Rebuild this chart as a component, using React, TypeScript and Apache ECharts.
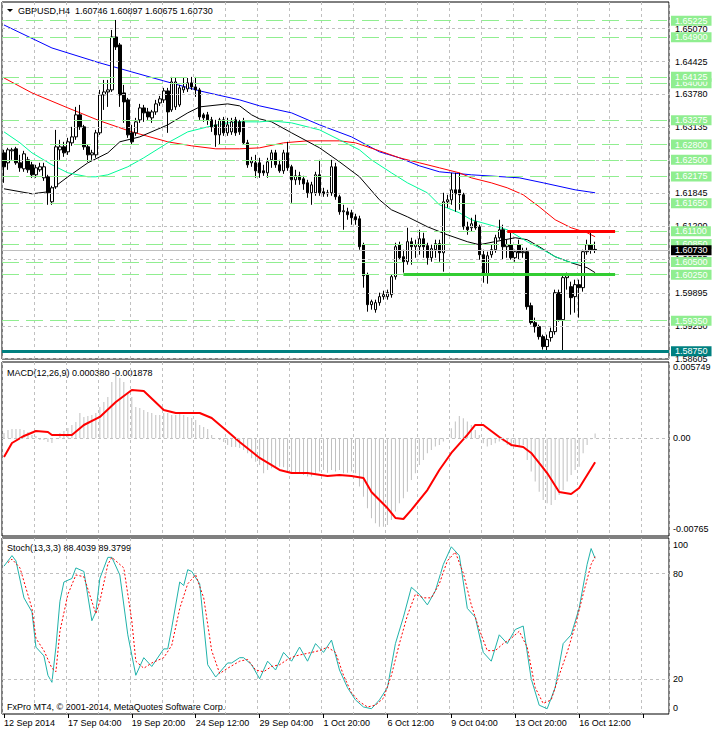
import React, { useEffect, useRef } from "react";
import * as echarts from "echarts";

const FONT = '"Liberation Sans", Arial, sans-serif';

const xTickLabels = ["12 Sep 2014", "17 Sep 04:00", "19 Sep 20:00", "24 Sep 12:00", "29 Sep 04:00", "1 Oct 20:00", "6 Oct 12:00", "9 Oct 04:00", "13 Oct 20:00", "16 Oct 12:00"];

// [open, close, low, high]
const candles: number[][] = [
  [1.62637, 1.62364, 1.62050, 1.62696], [1.62442, 1.62696, 1.62305, 1.62735], [1.62676, 1.62696, 1.62500, 1.62735], [1.62716, 1.62442, 1.62403, 1.62755],
  [1.62442, 1.62344, 1.62266, 1.62598], [1.62324, 1.62618, 1.62266, 1.62676], [1.62500, 1.62305, 1.62246, 1.62559], [1.62403, 1.62207, 1.62148, 1.62461],
  [1.62207, 1.62344, 1.62148, 1.62403], [1.62305, 1.62364, 1.62266, 1.62442], [1.62148, 1.62364, 1.62089, 1.62442], [1.62168, 1.61855, 1.61620, 1.62207],
  [1.61679, 1.61952, 1.61620, 1.61992], [1.61972, 1.62755, 1.61932, 1.63087], [1.62696, 1.62755, 1.62500, 1.62892], [1.62755, 1.62637, 1.62559, 1.62853],
  [1.62657, 1.62853, 1.62598, 1.62931], [1.62833, 1.62950, 1.62774, 1.63146], [1.62950, 1.63381, 1.62892, 1.63537], [1.63381, 1.63146, 1.63087, 1.63576],
  [1.63146, 1.62755, 1.62696, 1.63185], [1.62755, 1.62598, 1.62461, 1.62794], [1.62598, 1.62637, 1.62500, 1.62696], [1.62598, 1.63029, 1.62540, 1.63087],
  [1.63029, 1.63772, 1.62989, 1.63870], [1.63772, 1.63830, 1.63478, 1.64065], [1.63830, 1.63870, 1.63537, 1.64065], [1.63870, 1.64906, 1.63830, 1.65043],
  [1.64906, 1.64711, 1.64652, 1.65239], [1.64750, 1.63772, 1.63537, 1.64789], [1.63811, 1.63635, 1.63224, 1.63967], [1.63674, 1.62989, 1.62931, 1.63713],
  [1.63029, 1.62853, 1.62794, 1.63185], [1.63029, 1.63244, 1.62970, 1.63322], [1.63283, 1.63517, 1.63224, 1.63596], [1.63517, 1.63420, 1.63244, 1.63576],
  [1.63439, 1.63341, 1.63283, 1.63517], [1.63322, 1.63439, 1.63224, 1.63478], [1.63439, 1.63596, 1.63381, 1.63674], [1.63615, 1.63694, 1.63557, 1.63752],
  [1.63674, 1.63850, 1.63615, 1.63909], [1.63850, 1.63439, 1.63029, 1.63909], [1.63478, 1.64026, 1.63439, 1.64124], [1.63537, 1.64026, 1.63478, 1.64104],
  [1.63576, 1.63909, 1.63537, 1.63967], [1.63870, 1.63928, 1.63811, 1.64104], [1.63889, 1.64007, 1.63830, 1.64104], [1.64007, 1.63928, 1.63870, 1.64124],
  [1.63928, 1.63870, 1.63733, 1.64124], [1.63870, 1.63341, 1.63283, 1.63909], [1.63381, 1.63322, 1.63244, 1.63420], [1.63381, 1.63283, 1.63185, 1.63439],
  [1.63283, 1.63146, 1.63048, 1.63341], [1.63185, 1.62989, 1.62755, 1.63283], [1.62989, 1.63283, 1.62794, 1.63322], [1.63283, 1.63029, 1.62970, 1.63341],
  [1.63029, 1.63185, 1.62970, 1.63322], [1.63048, 1.63244, 1.62989, 1.63322], [1.63283, 1.63029, 1.62970, 1.63341], [1.63244, 1.63048, 1.62989, 1.63283],
  [1.63244, 1.62833, 1.62794, 1.63322], [1.62833, 1.62403, 1.62344, 1.62892], [1.62442, 1.62481, 1.62364, 1.62559], [1.62442, 1.62285, 1.62148, 1.62598],
  [1.62442, 1.62246, 1.62148, 1.62540], [1.62285, 1.62246, 1.62187, 1.62403], [1.62246, 1.62461, 1.62148, 1.62540], [1.62500, 1.62637, 1.62344, 1.62696],
  [1.62637, 1.62403, 1.62344, 1.62696], [1.62403, 1.62285, 1.62246, 1.62500], [1.62285, 1.62637, 1.62226, 1.62696], [1.62637, 1.62344, 1.62285, 1.62853],
  [1.62364, 1.62109, 1.61659, 1.62403], [1.62109, 1.62187, 1.62011, 1.62305], [1.62187, 1.62109, 1.62011, 1.62266], [1.62128, 1.62030, 1.61913, 1.62187],
  [1.62050, 1.61855, 1.61757, 1.62109], [1.61855, 1.62011, 1.61620, 1.62070], [1.61855, 1.62207, 1.61796, 1.62266], [1.62207, 1.61855, 1.61796, 1.62500],
  [1.61874, 1.61835, 1.61777, 1.61952], [1.61835, 1.61855, 1.61777, 1.61913], [1.61855, 1.62364, 1.61796, 1.62500], [1.62364, 1.61777, 1.61718, 1.62442],
  [1.61777, 1.61483, 1.61425, 1.61816], [1.61483, 1.61503, 1.61131, 1.61620], [1.61483, 1.61425, 1.61327, 1.61562], [1.61464, 1.61366, 1.61229, 1.61522],
  [1.61385, 1.61327, 1.61229, 1.61444], [1.61346, 1.60799, 1.60740, 1.61405], [1.60838, 1.60232, 1.59997, 1.60877], [1.60251, 1.59664, 1.59527, 1.60291],
  [1.59664, 1.59723, 1.59566, 1.59762], [1.59566, 1.59703, 1.59507, 1.59762], [1.59703, 1.59821, 1.59644, 1.59899], [1.59821, 1.59860, 1.59762, 1.59938],
  [1.59821, 1.59899, 1.59762, 1.59958], [1.59860, 1.60212, 1.59801, 1.60251], [1.60212, 1.60799, 1.60154, 1.60877], [1.60838, 1.60583, 1.60544, 1.60897],
  [1.60603, 1.60505, 1.60291, 1.60740], [1.60505, 1.60897, 1.60447, 1.61170], [1.60897, 1.60799, 1.60447, 1.60975], [1.60799, 1.60838, 1.60583, 1.60936],
  [1.60799, 1.60955, 1.60642, 1.61131], [1.60955, 1.60799, 1.60583, 1.61072], [1.60819, 1.60583, 1.60447, 1.60877], [1.60583, 1.60760, 1.60505, 1.60838],
  [1.60740, 1.60858, 1.60583, 1.60936], [1.60858, 1.60681, 1.60505, 1.60936], [1.60681, 1.61679, 1.60310, 1.61855], [1.61679, 1.61718, 1.61562, 1.61816],
  [1.61718, 1.61913, 1.61620, 1.62246], [1.61913, 1.61835, 1.61483, 1.62246], [1.61913, 1.61816, 1.61522, 1.62246], [1.61816, 1.61190, 1.61131, 1.61855],
  [1.61190, 1.61131, 1.61033, 1.61288], [1.61170, 1.61248, 1.61092, 1.61366], [1.61288, 1.61170, 1.61131, 1.61425], [1.61190, 1.60642, 1.60544, 1.61229],
  [1.60642, 1.60251, 1.60095, 1.60740], [1.60251, 1.60622, 1.60075, 1.60701], [1.60642, 1.60740, 1.60583, 1.60838], [1.60740, 1.60975, 1.60681, 1.61033],
  [1.60975, 1.61131, 1.60936, 1.61327], [1.61131, 1.60799, 1.60544, 1.61229], [1.60799, 1.60838, 1.60583, 1.60936], [1.60838, 1.60583, 1.60544, 1.61092],
  [1.60583, 1.60701, 1.60505, 1.60740], [1.60838, 1.60681, 1.60544, 1.60936], [1.60681, 1.60701, 1.60583, 1.60779], [1.60701, 1.59625, 1.59566, 1.60779],
  [1.59644, 1.59312, 1.59273, 1.59703], [1.59312, 1.59234, 1.59117, 1.59410], [1.59234, 1.59038, 1.58980, 1.59273], [1.59038, 1.58843, 1.58784, 1.59077],
  [1.58843, 1.58980, 1.58745, 1.59077], [1.59019, 1.59136, 1.58940, 1.59214], [1.59136, 1.59899, 1.59077, 1.59958], [1.59899, 1.59370, 1.59331, 1.59958],
  [1.59370, 1.60193, 1.58745, 1.60251], [1.60193, 1.60232, 1.59958, 1.60291], [1.60016, 1.59801, 1.59468, 1.60114], [1.59821, 1.60056, 1.59507, 1.60154],
  [1.60056, 1.59997, 1.59410, 1.60154], [1.59997, 1.60701, 1.59919, 1.60740], [1.60701, 1.60838, 1.60642, 1.60936], [1.60838, 1.60740, 1.60662, 1.61072],
  [1.60746, 1.60730, 1.60675, 1.60897],
];

// moving averages: [bar index, price]
const maBlue: number[][] = [[0, 1.65141], [12, 1.64691], [24, 1.64398], [32, 1.64222], [40, 1.64046], [49, 1.6385], [59, 1.63674], [64, 1.63557], [72, 1.6342], [79, 1.63185], [87, 1.6295], [94, 1.62657], [99, 1.6254], [104, 1.62383], [109, 1.62266], [117, 1.62207], [129, 1.62148], [135, 1.6205], [143, 1.61913], [148, 1.61855]];
const maRed: number[][] = [[0, 1.64104], [7, 1.63811], [16, 1.63517], [24, 1.63263], [32, 1.63048], [41, 1.62853], [47, 1.62774], [53, 1.62716], [59, 1.62716], [64, 1.62735], [70, 1.62833], [76, 1.62872], [84, 1.62872], [88, 1.62833], [94, 1.62676], [99, 1.6254], [104, 1.62442], [109, 1.62344], [114, 1.62246], [117, 1.62148], [122, 1.6205], [126, 1.61952], [130, 1.61816], [134, 1.61581], [138, 1.61327], [142, 1.6117], [146, 1.61072], [148, 1.60994]];
const maBlack: number[][] = [[0, 1.61933], [7, 1.61835], [11, 1.61874], [16, 1.62168], [21, 1.62442], [26, 1.62637], [29, 1.62853], [34, 1.6295], [41, 1.63185], [46, 1.6342], [49, 1.63537], [56, 1.63596], [59, 1.63557], [62, 1.63381], [64, 1.63302], [67, 1.63244], [72, 1.63029], [79, 1.62735], [84, 1.62461], [89, 1.62168], [94, 1.61718], [97, 1.61522], [101, 1.61385], [106, 1.6119], [111, 1.61033], [116, 1.60897], [119, 1.60838], [128, 1.60975], [131, 1.60936], [134, 1.60799], [138, 1.60603], [142, 1.60486], [146, 1.60388], [148, 1.60291]];
const maGreen: number[][] = [[0, 1.63048], [4, 1.62833], [7, 1.62637], [12, 1.62403], [16, 1.62246], [21, 1.62168], [23, 1.62168], [26, 1.62207], [31, 1.62364], [35, 1.6254], [41, 1.62833], [46, 1.63048], [51, 1.63146], [56, 1.63224], [59, 1.63244], [64, 1.63244], [67, 1.63263], [72, 1.63224], [79, 1.63087], [84, 1.62892], [89, 1.62696], [92, 1.625], [97, 1.62246], [101, 1.6205], [106, 1.61855], [109, 1.6162], [114, 1.61464], [117, 1.61327], [126, 1.61131], [131, 1.60897], [134, 1.60779], [138, 1.60603], [142, 1.60486], [147, 1.60486]];

const priceGridLevels = [1.6507, 1.64425, 1.6378, 1.63135, 1.6249, 1.61845, 1.612, 1.60555, 1.59895, 1.5925, 1.58605];
const greenLevels = [1.65225, 1.649, 1.64, 1.64125, 1.63275, 1.628, 1.625, 1.62175, 1.6165, 1.611, 1.6085, 1.605, 1.6025, 1.5935];
const supportLevel = 1.5875;
const lastPrice = 1.6073;
const redZone = [126, 153, 1.611];
const greenZone = [100, 153, 1.6025];

const macdHist = [
  0.00041, 0.00065, 0.00073, 0.00073, 0.00073, 0.00065, 0.00049, 0.00026, 0.00018, -0.00013, -0.00013, -0.00029, -0.00037, 0.00002, 0.00041, 0.00057,
  0.00081, 0.00104, 0.00128, 0.00198, 0.00167, 0.00175, 0.00182, 0.00198, 0.00245, 0.00284, 0.00323, 0.00441, 0.00495, 0.00472, 0.00441, 0.00363,
  0.00323, 0.00245, 0.00237, 0.00222, 0.00206, 0.00198, 0.00182, 0.00182, 0.00198, 0.00198, 0.00182, 0.00182, 0.00198, 0.00182, 0.00167, 0.00159,
  0.00143, 0.00104, 0.00088, 0.00073, 0.00026, 0.00002, -0.00013, -0.00029, -0.00052, -0.00068, -0.00068, -0.00076,
  -0.00091, -0.00117, -0.00157, -0.00183, -0.00209, -0.00274, -0.00248, -0.00235, -0.00235, -0.00222, -0.00227, -0.00261, -0.00274, -0.00269, -0.00274, -0.00287,
  -0.003, -0.003, -0.00287, -0.00261, -0.00248, -0.00269, -0.00248, -0.00261, -0.00248, -0.00274, -0.00269, -0.00261, -0.00274, -0.00378, -0.00457, -0.00548,
  -0.00626, -0.00666, -0.00692, -0.00692, -0.00679, -0.0064, -0.00574, -0.00509, -0.0047, -0.00418, -0.00326, -0.00274, -0.00209, -0.0017, -0.00117, -0.00091,
  -0.00065, -0.00052, -0.00026, 0.00002, 0.00078, 0.00131, 0.00175, 0.00157, 0.00131, 0.00104, 0.00065, 0.00026, -0.00039, -0.00065, -0.00052, -0.00039,
  -0.00026, -0.00026, -0.00052, -0.00065, -0.0007, -0.00065, -0.00052, -0.0017, -0.00261, -0.00339, -0.00418, -0.00483, -0.00509, -0.00522, -0.00483, -0.00444,
  -0.00405, -0.00339, -0.00287, -0.00248, -0.00222, -0.00117, -0.00052, -0.00008, 0.00038,
];
const macdSignal: number[][] = [[0, -0.00146], [2, -0.00037], [5, 0.00018], [8, 0.00057], [11, 0.00049], [12, 0.00026], [17, 0.00026], [20, 0.00104], [24, 0.00167], [28, 0.00284], [32, 0.00378], [35, 0.0037], [40, 0.00222], [43, 0.00198], [49, 0.00198], [52, 0.00159], [57, 0.00026], [59, -0.00029], [64, -0.00154], [69, -0.00248], [72, -0.00272], [76, -0.00272], [81, -0.00295], [84, -0.00287], [87, -0.00295], [90, -0.00311], [92, -0.0042], [96, -0.00546], [98, -0.00624], [100, -0.00632], [102, -0.00561], [106, -0.00405], [109, -0.00248], [112, -0.00115], [116, 0.00026], [118, 0.00104], [120, 0.00104], [124, 0.0001], [127, -0.00052], [130, -0.00068], [132, -0.00115], [136, -0.00272], [139, -0.00421], [142, -0.00436], [144, -0.00389], [148, -0.001878]];

const stochMain: number[][] = [[0, 84], [2, 90], [3, 87], [5, 66], [7, 58], [8, 38], [10, 33], [11, 22], [12, 18], [13, 38], [14, 64], [15, 75], [17, 77], [18, 83], [20, 81], [22, 53], [23, 58], [24, 77], [26, 89], [27, 89], [29, 79], [31, 45], [33, 22], [35, 32], [37, 27], [40, 37], [41, 37], [42, 49], [44, 75], [45, 73], [46, 82], [47, 81], [49, 74], [51, 28], [53, 21], [56, 29], [57, 29], [59, 32], [60, 32], [62, 28], [64, 20], [66, 30], [68, 25], [70, 35], [72, 30], [74, 38], [76, 30], [78, 40], [80, 35], [82, 42], [84, 25], [86, 15], [88, 8], [90, 4], [92, 3], [94, 8], [96, 15], [98, 40], [100, 55], [102, 72], [104, 68], [106, 62], [108, 70], [110, 85], [112, 95], [114, 90], [116, 60], [118, 55], [120, 35], [122, 30], [124, 45], [126, 40], [128, 48], [130, 50], [132, 20], [134, 5], [136, 3], [138, 15], [140, 40], [142, 45], [144, 60], [146, 85], [147, 94], [148, 88.4039]];
const stochSignal: number[][] = [[1, 86], [2, 88], [4, 83], [7, 60], [8, 43], [10, 36], [12, 26], [13, 24], [14, 47], [16, 68], [18, 79], [20, 78], [22, 64], [23, 57], [24, 64], [26, 85], [27, 89], [30, 83], [32, 53], [33, 30], [35, 26], [37, 29], [40, 32], [42, 39], [44, 60], [46, 74], [48, 79], [50, 66], [52, 36], [54, 23], [56, 26], [59, 30], [61, 31], [63, 25], [65, 24], [67, 27], [69, 28], [71, 31], [73, 33], [75, 34], [77, 35], [79, 36], [81, 38], [83, 35], [85, 22], [87, 12], [89, 7], [91, 4], [93, 5], [95, 9], [97, 22], [99, 40], [101, 56], [103, 68], [105, 66], [107, 66], [109, 74], [111, 87], [113, 92], [115, 80], [117, 62], [119, 48], [121, 36], [123, 36], [125, 40], [127, 43], [129, 47], [131, 38], [133, 15], [135, 6], [137, 8], [139, 22], [141, 35], [143, 50], [145, 68], [147, 85], [148, 89.3799]];

const macdAxisLabels = [["0.005749", 367], ["0.00", 438], ["-0.00765", 529]];
const stochAxisLabels = [["100", 545], ["80", 574], ["20", 679], ["0", 708]];

const N_SLOTS = 167;

export default function App() {
  const ref = useRef<HTMLDivElement>(null);
  useEffect(() => {
    if (!ref.current) return;
    const chart = echarts.init(ref.current, undefined, { renderer: "svg" });
    const cats = Array.from({ length: N_SLOTS }, (_, i) => String(i));
    const gridLine = { show: true, interval: (i: number) => i % 8 === 0, lineStyle: { color: "#c0c0c0", type: [3, 3], width: 1 } };
    const mkX = (g: number, bottom: boolean) => ({
      type: "category", gridIndex: g, data: cats, boundaryGap: true,
      axisLine: { show: false },
      axisTick: bottom ? { show: true, interval: (i: number) => i % 16 === 0, length: 4, alignWithLabel: true, lineStyle: { color: "#000" } } : { show: false },
      axisLabel: bottom ? {
        show: true, interval: (i: number) => i % 16 === 0 && i / 16 < xTickLabels.length,
        formatter: (_v: string, i: number) => xTickLabels[i / 16] ?? "", align: "left", margin: 4,
        color: "#000", fontSize: 9, fontFamily: FONT,
      } : { show: false },
      splitLine: gridLine,
    });
    const mkY = (g: number, min: number, max: number) => ({
      type: "value", gridIndex: g, min, max, position: "right",
      axisLine: { show: false }, axisTick: { show: false }, axisLabel: { show: false }, splitLine: { show: false },
    });
    const lblBase = { show: true, position: "end", distance: 2, fontSize: 9, fontFamily: FONT, padding: [1, 4, 0, 4], formatter: (p: any) => Number(p.value).toFixed(5) };
    const levelData: any[] = greenLevels.map((v) => ({
      yAxis: v, lineStyle: { color: "#90ee90", type: [17, 7], width: 1 },
      label: { ...lblBase, backgroundColor: "#90ee90", color: "#fff" },
    }));
    levelData.push({ yAxis: lastPrice, lineStyle: { color: "#c0c0c0", type: "solid", width: 1 }, label: { ...lblBase, backgroundColor: "#000", color: "#fff" } });
    levelData.push({ yAxis: supportLevel, lineStyle: { color: "#008080", type: "solid", width: 3 }, label: { ...lblBase, backgroundColor: "#008080", color: "#fff" } });
    levelData.push([{ coord: [redZone[0], redZone[2]], lineStyle: { color: "#ff0000", width: 3, type: "solid" }, label: { show: false } }, { coord: [redZone[1], redZone[2]] }]);
    levelData.push([{ coord: [greenZone[0], greenZone[2]], lineStyle: { color: "#32cd32", width: 3, type: "solid" }, label: { show: false } }, { coord: [greenZone[1], greenZone[2]] }]);

    const line = (name: string, x: number, data: number[][], color: string, width: number, type: any = "solid", z = 2) => ({
      name, type: "line", xAxisIndex: x, yAxisIndex: x, data, symbol: "none", showSymbol: false, z,
      lineStyle: { color, width, type }, silent: true,
    });

    chart.setOption({
      animation: false,
      backgroundColor: "#fff",
      textStyle: { fontFamily: FONT },
      grid: [
        { left: 2, top: 2, width: 667, height: 357, show: true, borderColor: "#000", borderWidth: 1 },
        { left: 2, top: 362, width: 667, height: 174, show: true, borderColor: "#000", borderWidth: 1 },
        { left: 2, top: 538, width: 667, height: 176, show: true, borderColor: "#000", borderWidth: 1 },
      ],
      xAxis: [mkX(0, false), mkX(1, false), mkX(2, true)],
      yAxis: [mkY(0, 1.586, 1.65591), mkY(1, -0.00765, 0.00597), mkY(2, 0, 100)],
      series: [
        {
          name: "grid", type: "line", xAxisIndex: 0, yAxisIndex: 0, data: [], z: 1, silent: true,
          markLine: {
            silent: true, symbol: ["none", "none"], animation: false, precision: 5,
            lineStyle: { color: "#c0c0c0", type: [3, 3], width: 1 },
            label: { ...lblBase, color: "#000" },
            data: priceGridLevels.map((v) => ({ yAxis: v })),
          },
        },
        {
          name: "levels", type: "line", xAxisIndex: 0, yAxisIndex: 0, data: [], z: 4, silent: true,
          markLine: { silent: true, symbol: ["none", "none"], animation: false, precision: 5, data: levelData },
        },
        line("MA slow", 0, maBlue, "#0000ff", 1),
        line("MA mid", 0, maRed, "#ff0000", 1),
        line("MA fast", 0, maBlack, "#000000", 1),
        line("MA fast2", 0, maGreen, "#00fa9a", 1),
        {
          name: "GBPUSD", type: "candlestick", xAxisIndex: 0, yAxisIndex: 0, data: candles, barWidth: 3, z: 3, silent: true,
          itemStyle: { color: "#fff", color0: "#000", borderColor: "#000", borderColor0: "#000", borderWidth: 1 },
        },
        {
          name: "MACD", type: "bar", xAxisIndex: 1, yAxisIndex: 1, data: macdHist, barWidth: 1, silent: true,
          itemStyle: { color: "#c0c0c0" },
          markLine: { silent: true, symbol: ["none", "none"], precision: 6, label: { show: false }, lineStyle: { color: "#c0c0c0", type: [3, 3], width: 1 }, data: [{ yAxis: 0 }] },
        },
        line("Signal", 1, macdSignal, "#ff0000", 2),
        {
          ...line("Stoch", 2, stochMain, "#20b2aa", 1, "solid", 3),
          markLine: { silent: true, symbol: ["none", "none"], label: { show: false }, lineStyle: { color: "#c0c0c0", type: [3, 3], width: 1 }, data: [{ yAxis: 80 }, { yAxis: 20 }] },
        },
        line("StochSignal", 2, stochSignal, "#ff0000", 1, [2, 2], 4),
      ],
      graphic: [
        { type: "polygon", shape: { points: [[7, 9], [13, 9], [10, 12]] }, style: { fill: "#000" } },
        { type: "text", x: 18, y: 11, style: { text: "GBPUSD,H4  1.60746 1.60897 1.60675 1.60730", fill: "#000", fontSize: 9, fontFamily: FONT, verticalAlign: "middle" } },
        { type: "text", x: 7, y: 373, style: { text: "MACD(12,26,9) 0.000380 -0.001878", fill: "#000", fontSize: 9, fontFamily: FONT, verticalAlign: "middle" } },
        { type: "text", x: 7, y: 548, style: { text: "Stoch(13,3,3) 88.4039 89.3799", fill: "#000", fontSize: 9, fontFamily: FONT, verticalAlign: "middle" } },
        { type: "text", x: 7, y: 707, style: { text: "FxPro MT4, © 2001-2014, MetaQuotes Software Corp.", fill: "#000", fontSize: 9, fontFamily: FONT, verticalAlign: "middle" } },
        ...macdAxisLabels.map(([t, y]) => ({ type: "text", x: 673, y: y as number, style: { text: t as string, fill: "#000", fontSize: 9, fontFamily: FONT, verticalAlign: "middle" } })),
        ...stochAxisLabels.map(([t, y]) => ({ type: "text", x: 673, y: y as number, style: { text: t as string, fill: "#000", fontSize: 9, fontFamily: FONT, verticalAlign: "middle" } })),
      ],
    });
    return () => chart.dispose();
  }, []);
  return <div ref={ref} style={{ position: "fixed", left: 0, top: 0, width: 712, height: 732, background: "#fff" }} />;
}
